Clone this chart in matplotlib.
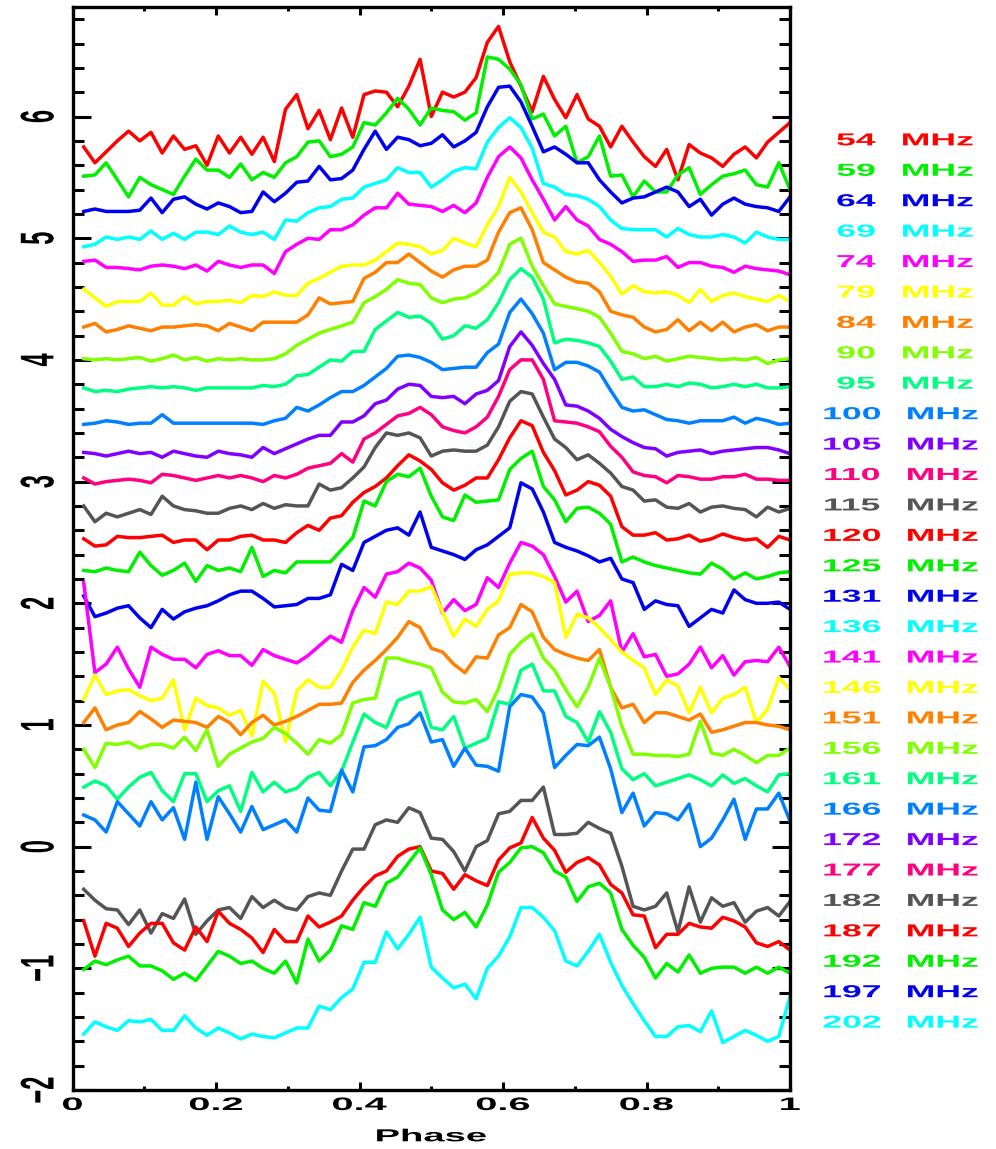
import numpy as np
import matplotlib
matplotlib.use('Agg')
import matplotlib.pyplot as plt
from matplotlib.patheffects import AbstractPathEffect
from matplotlib.transforms import Affine2D
from matplotlib.ticker import MultipleLocator

# frequencies in the right-hand legend (top to bottom)
freqs = [54, 59, 64, 69, 74, 79, 84, 90, 95, 100, 105, 110, 115, 120, 125,
         131, 136, 141, 146, 151, 156, 161, 166, 172, 177, 182, 187, 192, 197, 202]
colours = ['#ff0000', '#00f000', '#0000ee', '#00ffff', '#ff00ff', '#ffff00', '#ff8000',
           '#80ff00', '#00ff80', '#0080ff', '#8000ff', '#ff0080', '#555555']

# 64 phase bins
phase = np.arange(1, 65) / 64.0

# profiles (already offset)
p54 = [5.75, 5.62, 5.71, 5.8, 5.88, 5.8, 5.87, 5.7, 5.84, 5.73,
       5.76, 5.6, 5.84, 5.7, 5.83, 5.69, 5.83, 5.63, 6.06, 6.18,
       5.9, 6.05, 5.81, 6.07, 5.83, 6.18, 6.21, 6.2, 6.08, 6.25,
       6.47, 6.0, 6.2, 6.16, 6.2, 6.32, 6.61, 6.74, 6.45, 6.25,
       6.04, 6.33, 6.14, 5.99, 6.18, 5.98, 5.92, 5.75, 5.92, 5.79,
       5.67, 5.59, 5.73, 5.48, 5.77, 5.7, 5.66, 5.59, 5.69, 5.75,
       5.66, 5.79, 5.87, 5.95]
p59 = [5.51, 5.52, 5.62, 5.48, 5.34, 5.5, 5.44, 5.4, 5.36, 5.51,
       5.65, 5.56, 5.56, 5.5, 5.61, 5.48, 5.54, 5.5, 5.62, 5.67,
       5.79, 5.8, 5.67, 5.69, 5.75, 5.95, 5.93, 6.03, 6.15, 6.06,
       5.93, 6.07, 6.05, 6.04, 5.97, 6.03, 6.49, 6.47, 6.39, 6.26,
       5.98, 6.02, 5.84, 5.92, 5.62, 5.67, 5.84, 5.51, 5.52, 5.34,
       5.47, 5.38, 5.38, 5.52, 5.58, 5.36, 5.44, 5.51, 5.53, 5.56,
       5.44, 5.42, 5.62, 5.4]
p64 = [5.22, 5.24, 5.22, 5.22, 5.22, 5.23, 5.33, 5.21, 5.32, 5.34,
       5.28, 5.24, 5.29, 5.26, 5.21, 5.22, 5.38, 5.3, 5.37, 5.46,
       5.47, 5.59, 5.48, 5.49, 5.56, 5.73, 5.88, 5.73, 5.83, 5.81,
       5.76, 5.78, 5.85, 5.75, 5.8, 5.87, 6.08, 6.24, 6.25, 6.12,
       5.92, 5.71, 5.75, 5.69, 5.62, 5.62, 5.48, 5.38, 5.29, 5.33,
       5.34, 5.38, 5.42, 5.38, 5.26, 5.32, 5.19, 5.28, 5.33, 5.28,
       5.26, 5.25, 5.22, 5.34]
p69 = [4.93, 4.95, 5.01, 4.99, 5.01, 4.99, 5.06, 4.99, 5.04, 4.99,
       5.05, 5.05, 5.03, 5.1, 5.05, 5.03, 5.05, 4.99, 5.15, 5.14,
       5.21, 5.25, 5.26, 5.32, 5.33, 5.42, 5.45, 5.48, 5.58, 5.54,
       5.54, 5.42, 5.48, 5.55, 5.58, 5.57, 5.79, 5.91, 5.99, 5.91,
       5.74, 5.45, 5.42, 5.36, 5.35, 5.32, 5.26, 5.15, 5.08, 5.07,
       5.07, 5.07, 5.01, 5.08, 5.03, 5.01, 5.01, 5.03, 5.01, 4.96,
       5.05, 5.01, 4.99, 4.99]
p74 = [4.81, 4.82, 4.76, 4.76, 4.75, 4.74, 4.77, 4.78, 4.77, 4.75,
       4.78, 4.73, 4.81, 4.78, 4.76, 4.78, 4.78, 4.71, 4.89, 4.95,
       5.0, 4.99, 5.07, 5.07, 5.11, 5.19, 5.25, 5.25, 5.37, 5.28,
       5.27, 5.26, 5.22, 5.27, 5.21, 5.29, 5.5, 5.67, 5.75, 5.66,
       5.48, 5.32, 5.15, 5.26, 5.15, 5.1, 4.99, 4.95, 4.89, 4.81,
       4.82, 4.82, 4.85, 4.76, 4.8, 4.8, 4.77, 4.76, 4.72, 4.77,
       4.75, 4.74, 4.73, 4.7]
p79 = [4.58, 4.51, 4.44, 4.48, 4.48, 4.48, 4.55, 4.45, 4.45, 4.52,
       4.46, 4.48, 4.48, 4.49, 4.47, 4.53, 4.52, 4.56, 4.53, 4.53,
       4.63, 4.67, 4.72, 4.77, 4.78, 4.78, 4.82, 4.89, 4.96, 4.95,
       4.93, 4.87, 4.9, 5.0, 4.96, 4.93, 5.11, 5.26, 5.5, 5.38,
       5.21, 5.05, 5.01, 4.89, 4.87, 4.9, 4.8, 4.69, 4.54, 4.61,
       4.56, 4.55, 4.56, 4.53, 4.47, 4.58, 4.48, 4.53, 4.55, 4.52,
       4.5, 4.48, 4.53, 4.48]
p84 = [4.27, 4.3, 4.23, 4.25, 4.28, 4.26, 4.24, 4.27, 4.27, 4.28,
       4.29, 4.28, 4.24, 4.3, 4.27, 4.24, 4.31, 4.31, 4.31, 4.31,
       4.37, 4.51, 4.46, 4.47, 4.48, 4.67, 4.72, 4.8, 4.8, 4.87,
       4.8, 4.73, 4.68, 4.74, 4.77, 4.77, 4.82, 5.05, 5.21, 5.25,
       5.07, 4.8, 4.74, 4.68, 4.64, 4.63, 4.56, 4.4, 4.37, 4.35,
       4.27, 4.23, 4.25, 4.33, 4.24, 4.31, 4.24, 4.31, 4.23, 4.27,
       4.29, 4.24, 4.27, 4.27]
p90 = [4.01, 4.0, 4.01, 4.0, 4.01, 4.02, 3.99, 4.01, 4.04, 4.0,
       4.02, 3.99, 4.01, 4.0, 4.01, 4.0, 4.0, 4.01, 4.05, 4.12,
       4.17, 4.22, 4.25, 4.28, 4.31, 4.47, 4.52, 4.58, 4.66, 4.63,
       4.62, 4.51, 4.47, 4.5, 4.51, 4.55, 4.62, 4.72, 4.95, 5.0,
       4.77, 4.61, 4.46, 4.44, 4.42, 4.4, 4.35, 4.22, 4.07, 4.05,
       4.01, 4.03, 3.99, 4.01, 4.03, 4.02, 4.01, 4.0, 4.01, 4.0,
       4.02, 3.97, 4.0, 4.01]
p95 = [3.77, 3.74, 3.75, 3.74, 3.76, 3.77, 3.78, 3.77, 3.78, 3.77,
       3.75, 3.77, 3.77, 3.77, 3.77, 3.77, 3.79, 3.78, 3.8, 3.87,
       3.88, 3.94, 4.0, 3.99, 4.07, 4.07, 4.25, 4.32, 4.39, 4.35,
       4.36, 4.3, 4.17, 4.2, 4.28, 4.26, 4.33, 4.47, 4.66, 4.75,
       4.68, 4.5, 4.14, 4.17, 4.16, 4.14, 4.11, 3.99, 3.84, 3.86,
       3.78, 3.78, 3.8, 3.78, 3.81, 3.8, 3.77, 3.78, 3.8, 3.78,
       3.8, 3.77, 3.77, 3.78]
p100 = [3.47, 3.48, 3.5, 3.49, 3.47, 3.48, 3.48, 3.55, 3.48, 3.48,
        3.48, 3.48, 3.48, 3.48, 3.48, 3.48, 3.47, 3.5, 3.52, 3.61,
        3.58, 3.63, 3.69, 3.74, 3.74, 3.79, 3.86, 3.93, 4.03, 4.04,
        4.02, 3.98, 3.92, 3.93, 3.94, 3.94, 4.06, 4.13, 4.39, 4.5,
        4.38, 4.22, 3.92, 3.98, 3.98, 3.95, 3.9, 3.75, 3.61, 3.58,
        3.59, 3.55, 3.51, 3.5, 3.48, 3.5, 3.5, 3.5, 3.53, 3.48,
        3.52, 3.5, 3.47, 3.48]
p105 = [3.24, 3.23, 3.21, 3.23, 3.25, 3.23, 3.24, 3.2, 3.25, 3.23,
        3.21, 3.2, 3.25, 3.23, 3.22, 3.2, 3.28, 3.23, 3.27, 3.31,
        3.35, 3.38, 3.38, 3.49, 3.49, 3.54, 3.64, 3.67, 3.76, 3.8,
        3.79, 3.7, 3.69, 3.7, 3.64, 3.72, 3.75, 3.83, 4.11, 4.23,
        4.12, 3.97, 3.84, 3.63, 3.62, 3.58, 3.52, 3.43, 3.37, 3.32,
        3.28, 3.27, 3.21, 3.24, 3.25, 3.26, 3.23, 3.25, 3.26, 3.27,
        3.28, 3.28, 3.26, 3.23]
p110 = [3.03, 2.98, 3.0, 3.01, 3.02, 3.01, 2.99, 3.06, 3.05, 3.03,
        3.01, 3.03, 3.05, 3.03, 3.05, 3.03, 3.0, 3.05, 3.03, 3.06,
        3.11, 3.13, 3.15, 3.23, 3.16, 3.35, 3.4, 3.47, 3.54, 3.56,
        3.61, 3.55, 3.45, 3.42, 3.4, 3.45, 3.53, 3.7, 3.92, 4.0,
        4.0, 3.84, 3.5, 3.49, 3.48, 3.45, 3.41, 3.29, 3.2, 3.08,
        3.05, 3.04, 2.99, 3.05, 3.04, 3.02, 3.02, 3.04, 3.04, 3.06,
        3.02, 3.02, 3.01, 3.01]
p115 = [2.8, 2.67, 2.74, 2.71, 2.74, 2.77, 2.73, 2.88, 2.8, 2.77,
        2.76, 2.74, 2.74, 2.78, 2.8, 2.77, 2.82, 2.78, 2.81, 2.8,
        2.8, 2.98, 2.93, 2.95, 3.03, 3.12, 3.28, 3.4, 3.38, 3.4,
        3.36, 3.21, 3.25, 3.26, 3.25, 3.25, 3.3, 3.45, 3.66, 3.74,
        3.72, 3.53, 3.35, 3.28, 3.18, 3.22, 3.15, 3.07, 2.96, 2.93,
        2.84, 2.85, 2.79, 2.78, 2.82, 2.75, 2.79, 2.8, 2.78, 2.77,
        2.71, 2.79, 2.75, 2.78]
p120 = [2.53, 2.47, 2.48, 2.55, 2.54, 2.54, 2.55, 2.56, 2.5, 2.52,
        2.52, 2.44, 2.52, 2.52, 2.55, 2.56, 2.52, 2.52, 2.5, 2.58,
        2.64, 2.6, 2.7, 2.72, 2.83, 2.91, 2.96, 3.03, 3.13, 3.22,
        3.17, 3.1, 2.99, 2.93, 2.97, 3.03, 3.03, 3.18, 3.36, 3.5,
        3.46, 3.24, 3.09, 2.89, 2.93, 3.0, 2.97, 2.88, 2.63, 2.56,
        2.56, 2.58, 2.52, 2.53, 2.56, 2.51, 2.53, 2.57, 2.54, 2.52,
        2.53, 2.46, 2.55, 2.52]
p125 = [2.27, 2.26, 2.29, 2.27, 2.26, 2.42, 2.31, 2.23, 2.27, 2.33,
        2.18, 2.31, 2.27, 2.29, 2.26, 2.46, 2.22, 2.27, 2.25, 2.34,
        2.34, 2.34, 2.34, 2.44, 2.54, 2.84, 2.8, 3.0, 3.06, 3.04,
        3.11, 2.88, 2.71, 2.68, 2.89, 2.83, 2.84, 2.85, 3.1, 3.19,
        3.25, 2.96, 2.85, 2.67, 2.78, 2.79, 2.74, 2.65, 2.34, 2.38,
        2.34, 2.31, 2.29, 2.27, 2.25, 2.24, 2.33, 2.28, 2.2, 2.25,
        2.2, 2.22, 2.25, 2.26]
p131 = [2.06, 1.89, 1.92, 1.96, 1.98, 1.88, 1.8, 1.95, 1.87, 1.93,
        1.96, 1.98, 2.02, 2.07, 2.1, 2.1, 2.04, 1.97, 1.98, 1.99,
        2.04, 2.04, 2.07, 2.32, 2.27, 2.5, 2.55, 2.6, 2.62, 2.56,
        2.75, 2.46, 2.43, 2.4, 2.36, 2.44, 2.48, 2.55, 2.62, 2.99,
        2.94, 2.75, 2.5, 2.46, 2.43, 2.39, 2.34, 2.37, 2.2, 2.17,
        1.95, 2.02, 1.99, 1.98, 1.81, 1.88, 1.95, 1.92, 2.11, 2.03,
        2.0, 2.0, 2.01, 1.95]
p141 = [2.17, 1.43, 1.5, 1.64, 1.46, 1.31, 1.64, 1.58, 1.54, 1.54,
        1.47, 1.58, 1.61, 1.57, 1.57, 1.49, 1.62, 1.57, 1.54, 1.51,
        1.57, 1.65, 1.73, 1.68, 1.94, 2.13, 2.05, 2.24, 2.26, 2.33,
        2.29, 2.19, 1.92, 2.03, 1.94, 1.99, 2.21, 2.13, 2.33, 2.5,
        2.47, 2.4, 2.22, 2.01, 2.1, 1.85, 1.9, 2.02, 1.6, 1.75,
        1.56, 1.58, 1.4, 1.42, 1.5, 1.64, 1.47, 1.57, 1.41, 1.52,
        1.53, 1.52, 1.64, 1.48]
p146 = [1.21, 1.41, 1.25, 1.28, 1.29, 1.24, 1.2, 1.22, 1.37, 0.96,
        1.22, 1.16, 1.14, 1.08, 1.12, 0.91, 1.36, 1.26, 0.86, 1.28,
        1.37, 1.31, 1.31, 1.45, 1.64, 1.78, 1.75, 2.01, 1.99, 2.1,
        2.1, 2.14, 1.93, 1.73, 1.87, 1.81, 1.95, 2.02, 2.24, 2.25,
        2.25, 2.22, 2.17, 1.72, 1.91, 1.88, 1.8, 1.7, 1.6, 1.53,
        1.47, 1.25, 1.37, 1.32, 1.1, 1.31, 1.1, 1.22, 1.25, 1.31,
        1.02, 1.13, 1.39, 1.29]
p151 = [1.02, 1.14, 0.96, 1.0, 1.02, 1.11, 1.05, 0.98, 1.04, 1.03,
        1.02, 0.98, 1.07, 1.02, 0.92, 1.02, 1.08, 1.0, 1.03, 1.07,
        1.12, 1.17, 1.17, 1.18, 1.35, 1.45, 1.53, 1.62, 1.72, 1.85,
        1.8, 1.63, 1.6, 1.5, 1.43, 1.56, 1.55, 1.74, 1.8, 1.99,
        1.93, 1.72, 1.62, 1.58, 1.55, 1.53, 1.62, 1.31, 1.14, 1.17,
        1.02, 1.1, 1.1, 1.07, 1.04, 1.09, 0.94, 0.96, 0.99, 1.02,
        1.02, 1.0, 0.99, 0.96]
p156 = [0.8, 0.65, 0.85, 0.84, 0.86, 0.81, 0.84, 0.84, 0.81, 0.9,
        0.79, 0.96, 0.66, 0.76, 0.81, 0.86, 0.89, 0.98, 0.93, 0.85,
        0.76, 0.88, 0.85, 0.92, 1.18, 1.21, 1.22, 1.55, 1.55, 1.52,
        1.5, 1.47, 1.27, 1.19, 1.18, 1.21, 1.11, 1.3, 1.58, 1.68,
        1.75, 1.55, 1.45, 1.29, 1.15, 1.31, 1.55, 1.31, 0.99, 0.76,
        0.76, 0.75, 0.75, 0.74, 0.76, 1.03, 0.77, 0.75, 0.8, 0.75,
        0.69, 0.75, 0.75, 0.81]
p161 = [0.49, 0.54, 0.5, 0.39, 0.49, 0.57, 0.61, 0.46, 0.37, 0.6,
        0.6, 0.37, 0.46, 0.5, 0.29, 0.61, 0.45, 0.53, 0.45, 0.48,
        0.57, 0.61, 0.5, 0.62, 0.86, 1.09, 1.02, 0.98, 1.2, 1.24,
        1.27, 0.98, 0.96, 1.07, 0.81, 0.85, 0.89, 1.19, 1.17, 1.45,
        1.5, 1.28, 1.28, 1.07, 1.02, 0.86, 1.11, 0.94, 0.64, 0.55,
        0.6, 0.5, 0.53, 0.56, 0.59, 0.55, 0.5, 0.59, 0.52, 0.56,
        0.5, 0.45, 0.59, 0.6]
p166 = [0.26, 0.22, 0.12, 0.37, 0.27, 0.17, 0.37, 0.22, 0.32, 0.06,
        0.53, 0.06, 0.41, 0.27, 0.12, 0.33, 0.14, 0.18, 0.22, 0.12,
        0.4, 0.3, 0.29, 0.63, 0.45, 0.82, 0.83, 0.88, 0.98, 1.01,
        1.1, 0.86, 0.88, 0.66, 0.81, 0.67, 0.66, 0.62, 1.15, 1.25,
        1.23, 1.1, 0.65, 0.75, 0.84, 0.83, 0.9, 0.64, 0.28, 0.44,
        0.17, 0.28, 0.27, 0.22, 0.35, 0.0, 0.07, 0.22, 0.39, 0.06,
        0.31, 0.31, 0.44, 0.21]
p182 = [-0.35, -0.44, -0.51, -0.52, -0.64, -0.52, -0.71, -0.55, -0.59, -0.43,
        -0.72, -0.61, -0.52, -0.5, -0.59, -0.41, -0.5, -0.44, -0.5, -0.52,
        -0.41, -0.38, -0.4, -0.2, -0.02, -0.02, 0.18, 0.22, 0.2, 0.32,
        0.28, 0.07, 0.06, -0.04, -0.2, 0.0, 0.05, 0.27, 0.29, 0.38,
        0.38, 0.49, 0.1, 0.1, 0.11, 0.2, 0.15, 0.11, -0.16, -0.49,
        -0.52, -0.49, -0.38, -0.7, -0.33, -0.62, -0.42, -0.49, -0.46, -0.62,
        -0.53, -0.5, -0.57, -0.45]
p187 = [-0.61, -0.9, -0.63, -0.67, -0.82, -0.71, -0.63, -0.63, -0.79, -0.85,
        -0.66, -0.78, -0.53, -0.63, -0.68, -0.75, -0.87, -0.68, -0.78, -0.78,
        -0.57, -0.66, -0.62, -0.57, -0.44, -0.33, -0.24, -0.2, -0.08, -0.02,
        0.0, -0.2, -0.22, -0.35, -0.23, -0.28, -0.32, -0.11, -0.01, 0.03,
        0.24, 0.07, -0.03, -0.21, -0.13, -0.09, -0.15, -0.31, -0.38, -0.56,
        -0.57, -0.83, -0.72, -0.72, -0.63, -0.66, -0.67, -0.58, -0.61, -0.66,
        -0.79, -0.82, -0.78, -0.85]
p192 = [-1.01, -0.94, -0.97, -0.93, -0.9, -0.98, -0.98, -1.02, -1.09, -1.04,
        -1.1, -0.98, -0.86, -0.9, -0.96, -0.94, -1.0, -1.04, -0.94, -1.12,
        -0.76, -0.94, -0.85, -0.65, -0.68, -0.46, -0.49, -0.3, -0.25, -0.13,
        -0.01, -0.23, -0.52, -0.6, -0.54, -0.66, -0.48, -0.21, -0.13, -0.01,
        0.0, -0.05, -0.2, -0.25, -0.45, -0.33, -0.3, -0.38, -0.68, -0.81,
        -0.91, -1.08, -0.96, -1.03, -0.89, -1.04, -1.0, -0.99, -0.99, -1.04,
        -0.99, -1.04, -0.99, -1.04]
p202 = [-1.54, -1.44, -1.48, -1.51, -1.43, -1.44, -1.42, -1.51, -1.51, -1.39,
        -1.49, -1.55, -1.49, -1.53, -1.58, -1.54, -1.56, -1.57, -1.53, -1.49,
        -1.49, -1.31, -1.34, -1.24, -1.17, -0.95, -0.95, -0.7, -0.84, -0.72,
        -0.58, -0.99, -1.08, -1.16, -1.13, -1.25, -1.0, -0.9, -0.74, -0.5,
        -0.5, -0.58, -0.69, -0.94, -0.98, -0.86, -0.72, -0.95, -1.14, -1.29,
        -1.43, -1.56, -1.56, -1.48, -1.47, -1.52, -1.35, -1.61, -1.56, -1.51,
        -1.55, -1.6, -1.56, -1.23]

# 136, 172, 177 and 197 MHz have a label but no curve
profiles = {54: p54, 59: p59, 64: p64, 69: p69, 74: p74, 79: p79, 84: p84,
            90: p90, 95: p95, 100: p100, 105: p105, 110: p110, 115: p115,
            120: p120, 125: p125, 131: p131, 141: p141, 146: p146, 151: p151,
            156: p156, 161: p161, 166: p166, 182: p182, 187: p187, 192: p192,
            202: p202}


class Wide(AbstractPathEffect):
    """stretch text sideways about its centre, like the wide plot font"""
    def __init__(self, sx=2.0):
        super().__init__()
        self.sx = sx

    def draw_path(self, renderer, gc, tpath, affine, rgbFace=None):
        bb = tpath.get_extents(affine)
        cx, cy = (bb.x0 + bb.x1) / 2, (bb.y0 + bb.y1) / 2
        st = Affine2D().translate(-cx, -cy).scale(self.sx, 1).translate(cx, cy)
        renderer.draw_path(gc, tpath, affine + st, rgbFace)


plt.rcParams['font.family'] = ['Liberation Sans', 'DejaVu Sans']
plt.rcParams['font.weight'] = 'bold'

fig = plt.figure(figsize=(9.96, 11.49), dpi=100)
ax = fig.add_axes([0.0728, 0.0513, 0.7204, 0.9426])

for i, f in enumerate(freqs):
    c = colours[i % len(colours)]
    if f in profiles:
        ax.plot(phase, profiles[f], '-', color=c, lw=2.5)
    y = 5.8 - 0.25 * i
    tr = ax.get_yaxis_transform()
    xn = 1.0920 if f < 100 else 1.0864
    xm = 1.2056 if f < 100 else 1.2125
    ax.text(xn, y, str(f), transform=tr, color=c, fontsize=12.5, fontweight='bold',
            ha='center', va='center', path_effects=[Wide(2.05)])
    ax.text(xm, y, 'MHz', transform=tr, color=c, fontsize=12.5, fontweight='bold',
            ha='center', va='center', path_effects=[Wide(2.05)])

ax.set_xlim(0, 1)
ax.set_ylim(-2, 6.9)
ax.set_xticks([0, 0.2, 0.4, 0.6, 0.8, 1.0])
ax.set_xticklabels(['0', '0.2', '0.4', '0.6', '0.8', '1'])
ax.xaxis.set_minor_locator(MultipleLocator(0.1))
ax.set_yticks(range(-2, 7))
ax.yaxis.set_minor_locator(MultipleLocator(0.2))

for s in ax.spines.values():
    s.set_linewidth(2.4)
ax.tick_params(which='both', direction='in', top=True, right=True, width=2.2)
ax.tick_params(axis='x', which='major', length=6, labelsize=13, pad=5)
ax.tick_params(axis='x', which='minor', length=3)
ax.tick_params(axis='y', which='major', length=13, labelsize=17, pad=16)
ax.tick_params(axis='y', which='minor', length=8)
plt.yticks(rotation=90, va='center')

for lab in ax.get_xticklabels():
    lab.set_fontweight('bold')
    lab.set_path_effects([Wide(2.2)])
for lab in ax.get_yticklabels():
    lab.set_fontweight('bold')
    lab.set_path_effects([Wide(2.0)])

ax.set_xlabel('Phase', fontsize=12.5, fontweight='bold', labelpad=11,
              path_effects=[Wide(2.2)])

fig.savefig('out.png', dpi=100)
